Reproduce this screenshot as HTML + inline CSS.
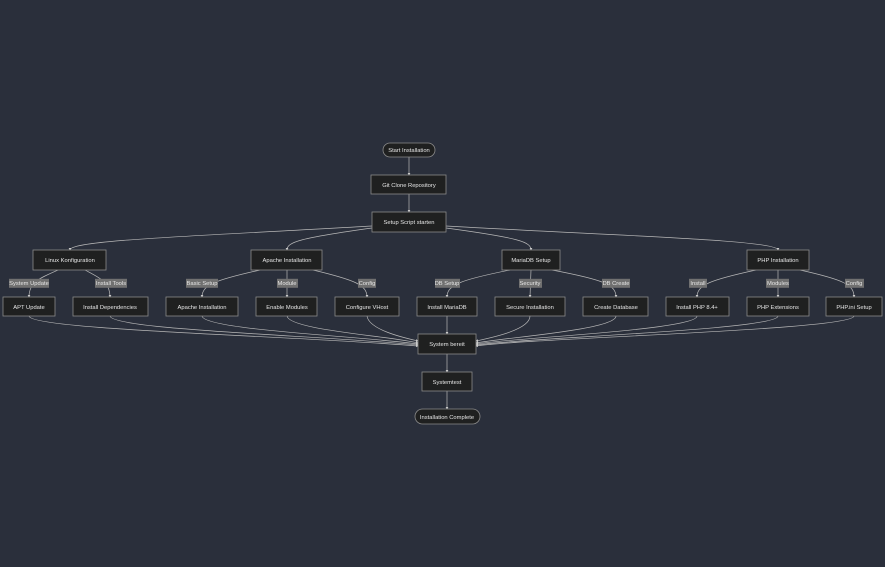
<!DOCTYPE html>
<html><head><meta charset="utf-8"><style>
html,body{margin:0;padding:0;background:#2a2f3b;}
svg{display:block}
text{font-family:"Liberation Sans",sans-serif;font-size:5.8px;fill:#e6e6e6;text-anchor:middle;dominant-baseline:central}
.n{fill:#1f2020;stroke:#8a8a8a;stroke-width:0.8}
.e{fill:none;stroke:#b8b8b8;stroke-width:0.7}
.lb{fill:#707070}
</style></head><body>
<svg width="885" height="567" viewBox="0 0 885 567" xmlns="http://www.w3.org/2000/svg">
<defs><marker id="a" markerWidth="4" markerHeight="4" refX="3" refY="2" orient="auto"><path d="M0,0 L4,2 L0,4z" fill="#ccc"/></marker></defs>
<g class="e" marker-end="url(#a)">
<path d="M409,157 L409,175"/>
<path d="M409,194 L409,212"/>
<path d="M372,226 C200,236 70,240 70,250"/>
<path d="M372,228 C300,238 287,242 287,250"/>
<path d="M446,228 C520,238 531,242 531,250"/>
<path d="M446,226 C620,236 778,240 778,250"/>
<path d="M58,270 C40,278 29,282 29,297"/>
<path d="M85,270 C100,278 110,282 110,297"/>
<path d="M260,270 C215,280 202,285 202,297"/>
<path d="M287,270 L287,297"/>
<path d="M313,270 C355,280 367,285 367,297"/>
<path d="M510,270 C460,280 447,285 447,297"/>
<path d="M531,270 L530,297"/>
<path d="M552,270 C605,280 616,285 616,297"/>
<path d="M756,270 C710,280 697,285 697,297"/>
<path d="M778,270 L778,297"/>
<path d="M800,270 C845,280 854,285 854,297"/>
<path d="M29,316 C30,330 300,336 418,346"/>
<path d="M110,316 C112,330 330,336 418,345"/>
<path d="M202,316 C204,330 360,336 418,344"/>
<path d="M287,316 C289,330 390,336 418,343"/>
<path d="M367,316 C369,330 405,338 418,341"/>
<path d="M447,316 L447,334"/>
<path d="M530,316 C530,330 490,338 476,341"/>
<path d="M616,316 C616,330 500,338 476,343"/>
<path d="M697,316 C697,330 510,338 476,344"/>
<path d="M778,316 C778,330 520,338 476,345"/>
<path d="M854,316 C854,330 530,338 476,346"/>
<path d="M447,354 L447,372"/>
<path d="M447,391 L447,409"/>
</g>
<g transform="translate(0,0.8)">
<rect class="lb" x="9" y="278" width="40" height="9"/><text x="29" y="283">System Update</text>
<rect class="lb" x="95" y="278" width="32" height="9"/><text x="111" y="283">Install Tools</text>
<rect class="lb" x="186" y="278" width="32" height="9"/><text x="202" y="283">Basic Setup</text>
<rect class="lb" x="277" y="278" width="21" height="9"/><text x="287" y="283">Module</text>
<rect class="lb" x="358" y="278" width="18" height="9"/><text x="367" y="283">Config</text>
<rect class="lb" x="435" y="278" width="25" height="9"/><text x="447" y="283">DB Setup</text>
<rect class="lb" x="519" y="278" width="23" height="9"/><text x="530" y="283">Security</text>
<rect class="lb" x="602" y="278" width="28" height="9"/><text x="616" y="283">DB Create</text>
<rect class="lb" x="689" y="278" width="18" height="9"/><text x="698" y="283">Install</text>
<rect class="lb" x="766" y="278" width="23" height="9"/><text x="778" y="283">Modules</text>
<rect class="lb" x="845" y="278" width="19" height="9"/><text x="854" y="283">Config</text>
</g>
<rect class="n" x="383" y="143" width="52" height="14" rx="7"/>
<rect class="n" x="371" y="175" width="75" height="19"/>
<rect class="n" x="372" y="212" width="74" height="20"/>
<rect class="n" x="33" y="250" width="73" height="20"/>
<rect class="n" x="251" y="250" width="71" height="20"/>
<rect class="n" x="502" y="250" width="58" height="20"/>
<rect class="n" x="747" y="250" width="62" height="20"/>
<rect class="n" x="3" y="297" width="52" height="19"/>
<rect class="n" x="73" y="297" width="75" height="19"/>
<rect class="n" x="166" y="297" width="72" height="19"/>
<rect class="n" x="256" y="297" width="61" height="19"/>
<rect class="n" x="335" y="297" width="64" height="19"/>
<rect class="n" x="417" y="297" width="60" height="19"/>
<rect class="n" x="495" y="297" width="70" height="19"/>
<rect class="n" x="583" y="297" width="65" height="19"/>
<rect class="n" x="666" y="297" width="63" height="19"/>
<rect class="n" x="747" y="297" width="62" height="19"/>
<rect class="n" x="826" y="297" width="56" height="19"/>
<rect class="n" x="418" y="334" width="58" height="20"/>
<rect class="n" x="422" y="372" width="50" height="19"/>
<rect class="n" x="415" y="409" width="65" height="15" rx="7.5"/>
<g transform="translate(0,1)">
<text x="409" y="150">Start Installation</text>
<text x="409" y="185">Git Clone Repository</text>
<text x="409" y="222">Setup Script starten</text>
<text x="70" y="260">Linux Konfiguration</text>
<text x="287" y="260">Apache Installation</text>
<text x="531" y="260">MariaDB Setup</text>
<text x="778" y="260">PHP Installation</text>
<text x="29" y="307">APT Update</text>
<text x="110" y="307">Install Dependencies</text>
<text x="202" y="307">Apache Installation</text>
<text x="287" y="307">Enable Modules</text>
<text x="367" y="307">Configure VHost</text>
<text x="447" y="307">Install MariaDB</text>
<text x="530" y="307">Secure Installation</text>
<text x="616" y="307">Create Database</text>
<text x="697" y="307">Install PHP 8.4+</text>
<text x="778" y="307">PHP Extensions</text>
<text x="854" y="307">PHP.ini Setup</text>
<text x="447" y="344">System bereit</text>
<text x="447" y="382">Systemtest</text>
<text x="447" y="417">Installation Complete</text>
</g>
</svg>
</body></html>
